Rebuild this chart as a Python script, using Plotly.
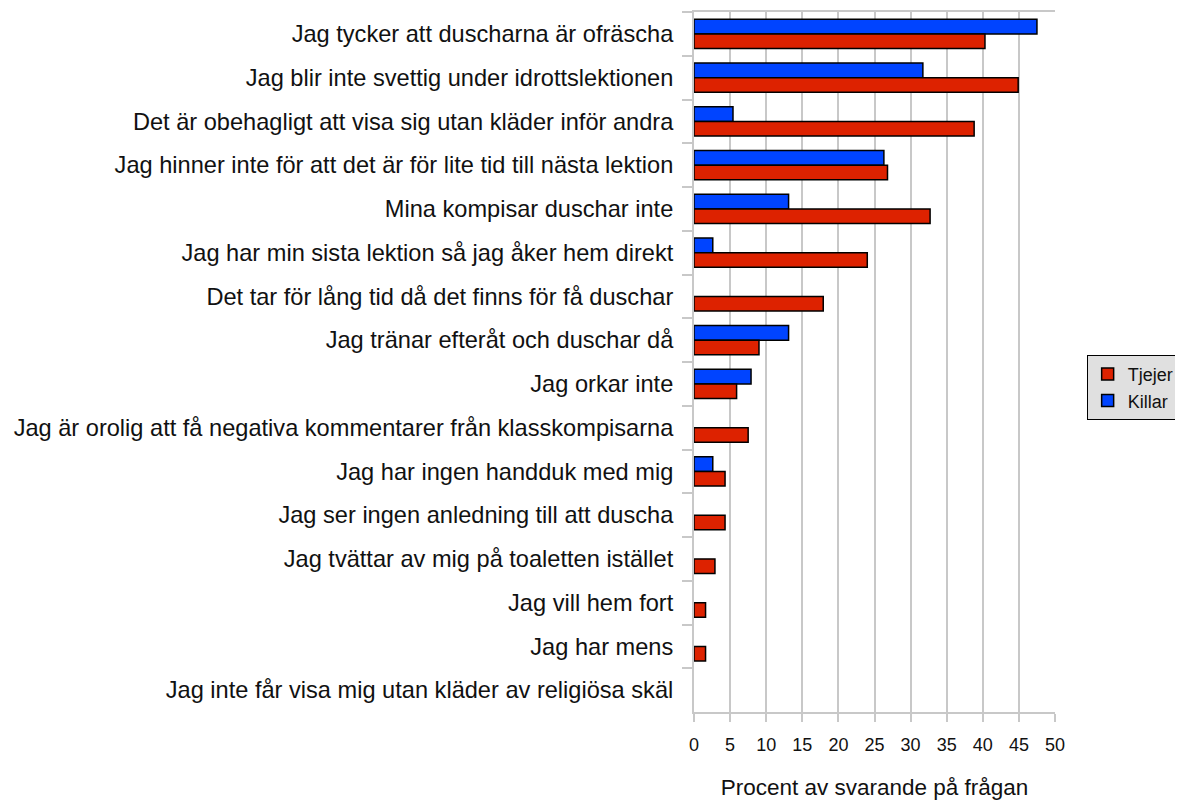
import plotly.graph_objects as go

categories = [
    "Jag tycker att duscharna är ofräscha",
    "Jag blir inte svettig under idrottslektionen",
    "Det är obehagligt att visa sig utan kläder inför andra",
    "Jag hinner inte för att det är för lite tid till nästa lektion",
    "Mina kompisar duschar inte",
    "Jag har min sista lektion så jag åker hem direkt",
    "Det tar för lång tid då det finns för få duschar",
    "Jag tränar efteråt och duschar då",
    "Jag orkar inte",
    "Jag är orolig att få negativa kommentarer från klasskompisarna",
    "Jag har ingen handduk med mig",
    "Jag ser ingen anledning till att duscha",
    "Jag tvättar av mig på toaletten istället",
    "Jag vill hem fort",
    "Jag har mens",
    "Jag inte får visa mig utan kläder av religiösa skäl",
]
tjejer = [40.3, 44.9, 38.8, 26.8, 32.7, 24.0, 17.9, 9.0, 5.9, 7.5, 4.3, 4.3, 2.9, 1.6, 1.6, 0]
killar = [47.5, 31.7, 5.4, 26.3, 13.1, 2.6, 0, 13.1, 7.9, 0, 2.6, 0, 0, 0, 0, 0]
x_ticks = [0, 5, 10, 15, 20, 25, 30, 35, 40, 45, 50]

font = "Liberation Sans, Arial, sans-serif"


def nz(vals):
    return [v if v > 0 else None for v in vals]


fig = go.Figure()
fig.add_trace(go.Bar(
    y=categories, x=nz(killar), name="Killar", orientation="h",
    marker=dict(color="#0044ff", line=dict(color="#000000", width=1.5)),
))
fig.add_trace(go.Bar(
    y=categories, x=nz(tjejer), name="Tjejer", orientation="h",
    marker=dict(color="#dd2200", line=dict(color="#000000", width=1.5)),
))

fig.update_layout(
    width=1175, height=792,
    margin=dict(l=686, r=128, t=4, b=88, autoexpand=False),
    barmode="group", bargap=0.33, bargroupgap=0,
    plot_bgcolor="white", paper_bgcolor="white",
    font=dict(family=font, color="#111111"),
    legend=dict(
        xref="container", yref="container",
        x=0.918, y=0.562, xanchor="left", yanchor="top",
        traceorder="reversed",
        bgcolor="#e0e0e0", bordercolor="#000000", borderwidth=1,
        font=dict(size=18, family=font),
        itemwidth=30,
    ),
    xaxis=dict(
        range=[0, 50], tickvals=x_ticks, ticktext=[str(v) for v in x_ticks],
        showgrid=True, gridcolor="#c8c8c8", gridwidth=2,
        showline=True, linecolor="#c8c8c8", linewidth=2, mirror=True,
        ticks="outside", ticklen=8, tickcolor="#c8c8c8", tickwidth=2,
        tickfont=dict(size=18),
        ticklabelstandoff=7,
        title=dict(text="Procent av svarande på frågan", font=dict(size=22.5), standoff=26),
        zeroline=False,
        automargin=False,
    ),
    yaxis=dict(
        autorange="reversed", type="category",
        tickson="boundaries", ticks="outside", ticklen=10, tickcolor="#c8c8c8", tickwidth=2,
        showline=True, linecolor="#c8c8c8", linewidth=2,
        showgrid=False,
        tickfont=dict(size=23.6),
        ticklabelstandoff=14,
        automargin=False,
    ),
)

fig.write_html("out.html")
